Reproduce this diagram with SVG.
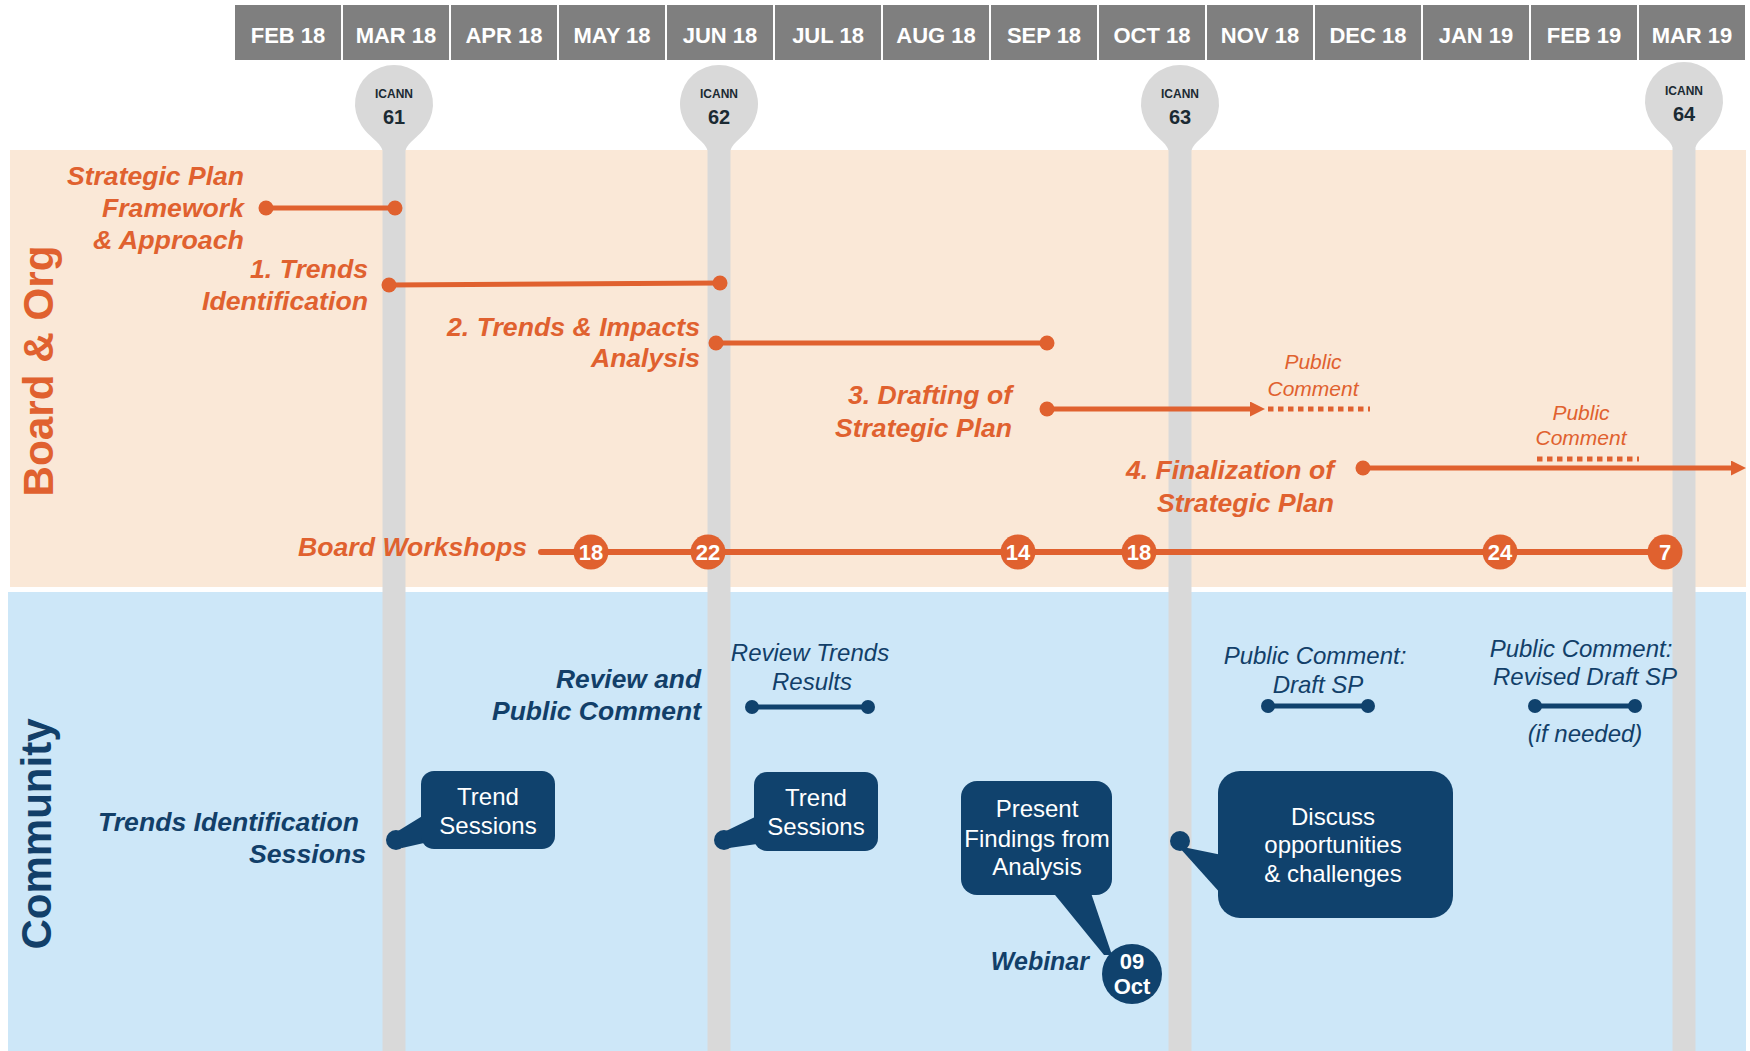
<svg xmlns="http://www.w3.org/2000/svg" width="1750" height="1051" viewBox="0 0 1750 1051">
<style>
.mb{fill:#7f7f7f}
.mt{font-family:"Liberation Sans",Arial,sans-serif;font-weight:bold;font-size:22px;fill:#fff;text-anchor:middle}
.pole{fill:#d9d9d9}
.ic{font-family:"Liberation Sans",Arial,sans-serif;font-weight:bold;fill:#1b2a33;text-anchor:middle}
.ol{font-family:"Liberation Sans",Arial,sans-serif;font-weight:bold;font-style:italic;font-size:25px;fill:#e0612f;text-anchor:end}
.os{font-family:"Liberation Sans",Arial,sans-serif;font-style:italic;font-size:21px;fill:#e0612f;text-anchor:middle}
.nl{font-family:"Liberation Sans",Arial,sans-serif;font-weight:bold;font-style:italic;font-size:25px;fill:#123f69;text-anchor:end}
.ns{font-family:"Liberation Sans",Arial,sans-serif;font-style:italic;font-size:24px;fill:#123f69;text-anchor:middle}
.oline{stroke:#e0612f;stroke-width:5;fill:none}
.odot{fill:#e0612f}
.odash{stroke:#e0612f;stroke-width:5;stroke-dasharray:5.5 4.5;fill:none}
.nline{stroke:#10426d;stroke-width:5;fill:none}
.ndot{fill:#10426d}
.box{fill:#10426d}
.bt{font-family:"Liberation Sans",Arial,sans-serif;font-size:24px;fill:#fff;text-anchor:middle}
.wk{fill:#e0612f}
.wt{font-family:"Liberation Sans",Arial,sans-serif;font-weight:bold;font-size:22px;fill:#fff;text-anchor:middle}
</style>
<defs>
<path id="pin" d="M -11.5 46 C -14 38 -26 32 -32.6 21.4 A 39 39 0 1 1 32.6 21.4 C 26 32 14 38 11.5 46 Z" fill="#d9d9d9"/>
<marker id="arrO" viewBox="0 0 15 15" refX="0" refY="7.5" markerWidth="15" markerHeight="15" markerUnits="userSpaceOnUse" orient="auto">
<path d="M0 0 L15 7.5 L0 15 Z" fill="#e0612f"/>
</marker>
</defs>
<rect width="1750" height="1051" fill="#fff"/>
<g id="bands">
<rect x="10" y="150" width="1736" height="437" fill="#fae8d7"/>
<rect x="8" y="592" width="1738" height="459" fill="#cde7f8"/>
<text transform="translate(53,371) rotate(-90)" font-family="Liberation Sans,Arial,sans-serif" font-weight="bold" font-size="42" fill="#e0612f" text-anchor="middle" textLength="251" lengthAdjust="spacingAndGlyphs">Board &amp; Org</text>
<text transform="translate(51,834) rotate(-90)" font-family="Liberation Sans,Arial,sans-serif" font-weight="bold" font-size="42" fill="#123f69" text-anchor="middle" textLength="231" lengthAdjust="spacingAndGlyphs">Community</text>
</g>
<g id="months">
<rect class="mb" x="235" y="5" width="106" height="55"/><text class="mt" x="288" y="43">FEB 18</text>
<rect class="mb" x="343" y="5" width="106" height="55"/><text class="mt" x="396" y="43">MAR 18</text>
<rect class="mb" x="451" y="5" width="106" height="55"/><text class="mt" x="504" y="43">APR 18</text>
<rect class="mb" x="559" y="5" width="106" height="55"/><text class="mt" x="612" y="43">MAY 18</text>
<rect class="mb" x="667" y="5" width="106" height="55"/><text class="mt" x="720" y="43">JUN 18</text>
<rect class="mb" x="775" y="5" width="106" height="55"/><text class="mt" x="828" y="43">JUL 18</text>
<rect class="mb" x="883" y="5" width="106" height="55"/><text class="mt" x="936" y="43">AUG 18</text>
<rect class="mb" x="991" y="5" width="106" height="55"/><text class="mt" x="1044" y="43">SEP 18</text>
<rect class="mb" x="1099" y="5" width="106" height="55"/><text class="mt" x="1152" y="43">OCT 18</text>
<rect class="mb" x="1207" y="5" width="106" height="55"/><text class="mt" x="1260" y="43">NOV 18</text>
<rect class="mb" x="1315" y="5" width="106" height="55"/><text class="mt" x="1368" y="43">DEC 18</text>
<rect class="mb" x="1423" y="5" width="106" height="55"/><text class="mt" x="1476" y="43">JAN 19</text>
<rect class="mb" x="1531" y="5" width="106" height="55"/><text class="mt" x="1584" y="43">FEB 19</text>
<rect class="mb" x="1639" y="5" width="106" height="55"/><text class="mt" x="1692" y="43">MAR 19</text>
</g>
<g id="icann61">
<rect class="pole" x="382.5" y="140" width="23" height="911"/>
<use href="#pin" x="394" y="104"/>
<text class="ic" x="394" y="98" font-size="12">ICANN</text>
<text class="ic" x="394" y="124" font-size="20">61</text>
</g>
<g id="icann62">
<rect class="pole" x="707.5" y="140" width="23" height="911"/>
<use href="#pin" x="719" y="104"/>
<text class="ic" x="719" y="98" font-size="12">ICANN</text>
<text class="ic" x="719" y="124" font-size="20">62</text>
</g>
<g id="icann63">
<rect class="pole" x="1168.5" y="140" width="23" height="911"/>
<use href="#pin" x="1180" y="104"/>
<text class="ic" x="1180" y="98" font-size="12">ICANN</text>
<text class="ic" x="1180" y="124" font-size="20">63</text>
</g>
<g id="icann64">
<rect class="pole" x="1672.5" y="137" width="23" height="914"/>
<use href="#pin" x="1684" y="101"/>
<text class="ic" x="1684" y="95" font-size="12">ICANN</text>
<text class="ic" x="1684" y="121" font-size="20">64</text>
</g>
<g id="connectors">
<line class="oline" x1="266" y1="208" x2="395" y2="208"/>
<circle class="odot" cx="266" cy="208" r="7.5"/><circle class="odot" cx="395" cy="208" r="7.5"/>
<line class="oline" x1="389" y1="285" x2="720" y2="283"/>
<circle class="odot" cx="389" cy="285" r="7.5"/><circle class="odot" cx="720" cy="283" r="7.5"/>
<line class="oline" x1="716" y1="343" x2="1047" y2="343"/>
<circle class="odot" cx="716" cy="343" r="7.5"/><circle class="odot" cx="1047" cy="343" r="7.5"/>
<line class="oline" x1="1047" y1="409" x2="1250" y2="409" marker-end="url(#arrO)"/>
<circle class="odot" cx="1047" cy="409" r="7.5"/>
<line class="odash" x1="1268" y1="409" x2="1370" y2="409"/>
<line class="oline" x1="1363" y1="468" x2="1731" y2="468" marker-end="url(#arrO)"/>
<circle class="odot" cx="1363" cy="468" r="7.5"/>
<line class="odash" x1="1537" y1="459" x2="1639" y2="459"/>
<line x1="541" y1="552" x2="1665" y2="552" stroke="#e0612f" stroke-width="6" stroke-linecap="round"/>
<line class="nline" x1="752" y1="707" x2="868" y2="707"/>
<circle class="ndot" cx="752" cy="707" r="7"/><circle class="ndot" cx="868" cy="707" r="7"/>
<line class="nline" x1="1268" y1="706" x2="1368" y2="706"/>
<circle class="ndot" cx="1268" cy="706" r="7"/><circle class="ndot" cx="1368" cy="706" r="7"/>
<line class="nline" x1="1535" y1="706" x2="1635" y2="706"/>
<circle class="ndot" cx="1535" cy="706" r="7"/><circle class="ndot" cx="1635" cy="706" r="7"/>
</g>
<g id="label-framework">
<text class="ol" x="244" y="185" textLength="177" lengthAdjust="spacingAndGlyphs">Strategic Plan</text>
<text class="ol" x="244" y="217" textLength="142" lengthAdjust="spacingAndGlyphs">Framework</text>
<text class="ol" x="244" y="249" textLength="151" lengthAdjust="spacingAndGlyphs">&amp; Approach</text>
</g>
<g id="label-trends">
<text class="ol" x="368" y="278" textLength="118" lengthAdjust="spacingAndGlyphs">1. Trends</text>
<text class="ol" x="368" y="310" textLength="166" lengthAdjust="spacingAndGlyphs">Identification</text>
</g>
<g id="label-impacts">
<text class="ol" x="700" y="336" textLength="253" lengthAdjust="spacingAndGlyphs">2. Trends &amp; Impacts</text>
<text class="ol" x="700" y="367" textLength="109" lengthAdjust="spacingAndGlyphs">Analysis</text>
</g>
<g id="label-drafting">
<text class="ol" x="1012" y="404" textLength="164" lengthAdjust="spacingAndGlyphs">3. Drafting of</text>
<text class="ol" x="1012" y="437" textLength="177" lengthAdjust="spacingAndGlyphs">Strategic Plan</text>
</g>
<g id="pc1">
<text class="os" x="1313" y="369">Public</text>
<text class="os" x="1313" y="396">Comment</text>
</g>
<g id="label-final">
<text class="ol" x="1334" y="479" textLength="208" lengthAdjust="spacingAndGlyphs">4. Finalization of</text>
<text class="ol" x="1334" y="512" textLength="177" lengthAdjust="spacingAndGlyphs">Strategic Plan</text>
</g>
<g id="pc2">
<text class="os" x="1581" y="420">Public</text>
<text class="os" x="1581" y="445">Comment</text>
</g>
<g id="board-workshops">
<text class="ol" x="527" y="556" textLength="229" lengthAdjust="spacingAndGlyphs">Board Workshops</text>
<circle class="wk" cx="591" cy="552" r="17.5"/><text class="wt" x="591" y="560">18</text>
<circle class="wk" cx="708" cy="552" r="17.5"/><text class="wt" x="708" y="560">22</text>
<circle class="wk" cx="1018" cy="552" r="17.5"/><text class="wt" x="1018" y="560">14</text>
<circle class="wk" cx="1139" cy="552" r="17.5"/><text class="wt" x="1139" y="560">18</text>
<circle class="wk" cx="1500" cy="552" r="17.5"/><text class="wt" x="1500" y="560">24</text>
<circle class="wk" cx="1665" cy="552" r="17.5"/><text class="wt" x="1665" y="560">7</text>
</g>
<g id="label-review">
<text class="nl" x="701" y="688" textLength="145" lengthAdjust="spacingAndGlyphs">Review and</text>
<text class="nl" x="701" y="720" textLength="209" lengthAdjust="spacingAndGlyphs">Public Comment</text>
</g>
<g id="review-trends">
<text class="ns" x="810" y="661">Review Trends</text>
<text class="ns" x="812" y="690">Results</text>
</g>
<g id="pc-draft">
<text class="ns" x="1315" y="664">Public Comment:</text>
<text class="ns" x="1318" y="693">Draft SP</text>
</g>
<g id="pc-revised">
<text class="ns" x="1581" y="657">Public Comment:</text>
<text class="ns" x="1585" y="685">Revised Draft SP</text>
<text class="ns" x="1585" y="742">(if needed)</text>
</g>
<g id="label-sessions">
<text class="nl" x="359" y="831" textLength="261" lengthAdjust="spacingAndGlyphs">Trends Identification</text>
<text class="nl" x="366" y="863" textLength="117" lengthAdjust="spacingAndGlyphs">Sessions</text>
</g>
<g id="trend-sessions-1">
<circle class="ndot" cx="396" cy="840" r="10"/>
<polygon class="box" points="398,831 424,815 424,843 402,848"/>
<rect class="box" x="421" y="771" width="134" height="78" rx="13"/>
<text class="bt" x="488" y="805">Trend</text>
<text class="bt" x="488" y="834">Sessions</text>
</g>
<g id="trend-sessions-2">
<circle class="ndot" cx="724" cy="840" r="10"/>
<polygon class="box" points="726,831 757,816 757,844 729,848"/>
<rect class="box" x="754" y="772" width="124" height="79" rx="13"/>
<text class="bt" x="816" y="806">Trend</text>
<text class="bt" x="816" y="835">Sessions</text>
</g>
<g id="findings">
<polygon class="box" points="1051,890 1090,890 1112,955 1104,955"/>
<rect class="box" x="961" y="781" width="151" height="114" rx="16"/>
<text class="bt" x="1037" y="817">Present</text>
<text class="bt" x="1037" y="847">Findings from</text>
<text class="bt" x="1037" y="875">Analysis</text>
</g>
<g id="webinar">
<text class="nl" x="1089" y="970">Webinar</text>
<circle class="box" cx="1132" cy="974" r="30"/>
<text class="wt" x="1132" y="969" font-size="20">09</text>
<text class="wt" x="1132" y="994" font-size="20">Oct</text>
</g>
<g id="discuss">
<circle class="ndot" cx="1180" cy="841" r="10"/>
<polygon class="box" points="1178,846 1222,855 1222,895"/>
<rect class="box" x="1218" y="771" width="235" height="147" rx="22"/>
<text class="bt" x="1333" y="825">Discuss</text>
<text class="bt" x="1333" y="853">opportunities</text>
<text class="bt" x="1333" y="882">&amp; challenges</text>
</g>
</svg>
